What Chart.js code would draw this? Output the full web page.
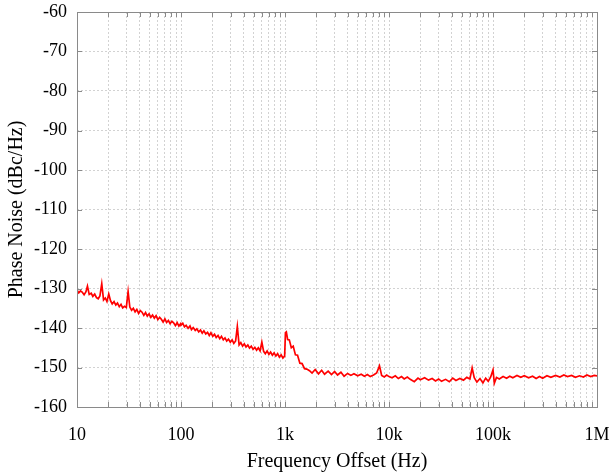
<!DOCTYPE html>
<html>
<head>
<meta charset="utf-8">
<script src="https://cdn.jsdelivr.net/npm/chart.js@4.4.1/dist/chart.umd.min.js"></script>
<style>
  html, body { margin: 0; padding: 0; background: #fff; overflow: hidden; }
  #wrap { width: 614px; height: 474px; }
</style>
</head>
<body>
<div id="wrap"><canvas id="chart"></canvas></div>
<script>
const freqHz = [
  10, 10.4, 10.8, 11.2, 11.7, 12.2, 12.6, 13.1, 13.7, 14.2, 14.8, 15.4, 16, 16.6, 17.3, 18, 18.7, 19.4, 20.2, 21,
  21.8, 22.7, 23.6, 24.5, 25.5, 26.5, 27.5, 28.6, 29.8, 31, 32.2, 33.5, 34.8, 36.2, 37.6, 39.1, 40.6, 42.2, 43.9, 45.6,
  47.4, 49.3, 51.3, 53.3, 55.4, 57.6, 59.9, 62.3, 64.7, 67.3, 70, 72.7, 75.6, 78.6, 81.7, 84.9, 88.3, 91.8, 95.4, 99.2,
  100, 104, 108, 112, 117, 122, 126, 131, 137, 142, 148, 154, 160, 166, 173, 180, 187, 194, 202, 210,
  218, 227, 236, 245, 255, 265, 275, 286, 298, 310, 322, 335, 348, 362, 376, 391, 406, 422, 439, 456,
  474, 493, 513, 533, 554, 576, 599, 623, 647, 673, 700, 727, 756, 786, 817, 849, 883, 918, 954, 992,
  1010, 1030, 1060, 1100, 1150, 1200, 1260, 1320, 1390, 1460, 1540, 1620, 1720, 1820, 1950, 2100, 2250, 2400, 2600, 2800,
  3000, 3200, 3450, 3700, 4000, 4300, 4600, 5000, 5400, 5800, 6200, 6600, 7100, 7600, 8100, 8500, 9000, 9500, 10000, 10700,
  11500, 12300, 13200, 14000, 15000, 16000, 17500, 19000, 20000, 22000, 24000, 26000, 28000, 30000, 32000, 35000, 38000, 41000, 44000, 48000,
  52000, 56000, 60000, 63000, 66000, 70000, 75000, 80000, 85000, 90000, 95000, 100000, 103000, 108000, 115000, 125000, 135000, 145000, 155000, 170000,
  185000, 200000, 220000, 240000, 260000, 280000, 300000, 330000, 360000, 400000, 440000, 480000, 520000, 570000, 620000, 680000, 740000, 800000, 870000, 940000,
  1000000
];
const phaseNoise = [
  -130.4, -131.1, -130.6, -130.9, -131.6, -130.8, -129.4, -131.5, -131.2, -132.0, -131.4, -132.3, -132.6, -131.9, -128.8, -132.9, -132.4, -133.3, -131.4, -133.1,
  -133.9, -133.3, -134.2, -133.7, -134.6, -134.0, -134.9, -134.5, -134.8, -130.8, -134.7, -135.5, -135.0, -135.9, -135.3, -136.3, -135.6, -136.0, -136.8, -136.1,
  -137.0, -136.4, -137.3, -136.7, -137.5, -136.9, -137.9, -137.3, -137.8, -138.5, -137.7, -138.6, -138.1, -138.9, -138.3, -138.7, -139.4, -138.6, -139.5, -138.9,
  -139.3, -138.8, -139.7, -139.3, -140.1, -139.5, -140.4, -139.9, -140.6, -140.2, -141.0, -140.5, -141.3, -140.7, -141.5, -141.1, -141.9, -141.2, -142.1, -141.6,
  -142.4, -141.9, -142.7, -142.1, -143.0, -142.5, -143.3, -142.8, -143.6, -143.0, -143.9, -143.3, -139.6, -144.3, -143.7, -144.6, -144.0, -144.8, -144.3, -145.1,
  -144.6, -145.4, -144.9, -145.6, -145.0, -145.8, -143.6, -145.9, -146.5, -145.8, -146.7, -146.1, -146.9, -146.3, -147.1, -146.5, -147.4, -146.8, -147.6, -147.1,
  -141.2, -141.0, -142.9, -143.0, -145.0, -144.6, -146.8, -146.9, -148.9, -149.0, -150.3, -150.4, -150.8, -151.4, -150.5, -151.6, -150.7, -151.7, -150.9, -151.8,
  -151.0, -151.9, -151.2, -152.2, -151.5, -152.0, -151.6, -152.1, -151.7, -152.2, -151.8, -152.3, -151.9, -151.4, -149.6, -152.0, -152.4, -151.9, -152.3, -152.6,
  -152.1, -152.8, -152.3, -152.9, -152.4, -153.0, -153.6, -152.7, -153.1, -152.6, -153.2, -152.8, -153.4, -152.9, -153.5, -153.0, -153.6, -152.7, -153.3, -152.8,
  -153.2, -152.5, -152.9, -150.1, -152.6, -153.7, -152.8, -153.9, -152.7, -153.5, -152.4, -150.6, -154.0, -152.5, -152.9, -152.3, -152.7, -152.2, -152.6, -152.0,
  -152.5, -152.1, -152.6, -152.2, -152.8, -152.3, -152.7, -152.1, -152.5, -152.0, -152.4, -151.9, -152.3, -152.0, -152.5, -152.1, -152.4, -151.9, -152.3, -152.0,
  -152.1
];

// Decade ticks carry labels, the 2..9 multiples only get grid lines
const xMajor = [10, 100, 1000, 10000, 100000, 1000000];
const xTickLabels = ['10', '100', '1k', '10k', '100k', '1M'];

const serif = "'Liberation Serif', 'Times New Roman', serif";

// Gray frame round the plot with short inward tick marks on all four sides
const frameTicks = {
  id: 'frameTicks',
  afterDatasetsDraw(chart) {
    const { ctx, chartArea: a, scales: { x, y } } = chart;
    ctx.save();
    ctx.strokeStyle = '#8a8a8a';
    ctx.lineWidth = 1;
    ctx.beginPath();
    x.ticks.forEach(t => {
      const px = Math.round(x.getPixelForValue(t.value)) + 0.5;
      ctx.moveTo(px, a.bottom); ctx.lineTo(px, a.bottom - 5);
      ctx.moveTo(px, a.top); ctx.lineTo(px, a.top + 5);
    });
    y.ticks.forEach(t => {
      const py = Math.round(y.getPixelForValue(t.value)) + 0.5;
      ctx.moveTo(a.left, py); ctx.lineTo(a.left + 5, py);
      ctx.moveTo(a.right, py); ctx.lineTo(a.right - 5, py);
    });
    ctx.stroke();
    ctx.strokeRect(Math.round(a.left) + 0.5, Math.round(a.top) + 0.5,
      Math.round(a.right - a.left), Math.round(a.bottom - a.top));
    ctx.restore();
  }
};

new Chart(document.getElementById('chart'), {
  type: 'line',
  data: {
    datasets: [{
      data: freqHz.map((f, i) => ({ x: f, y: phaseNoise[i] })),
      borderColor: '#ff0000',
      borderWidth: 1.7,
      pointRadius: 0,
      tension: 0,
      fill: false
    }]
  },
  options: {
    responsive: true,
    maintainAspectRatio: false,
    animation: false,
    devicePixelRatio: 1,
    layout: { padding: 0 },
    plugins: { legend: { display: false }, tooltip: { enabled: false } },
    scales: {
      x: {
        type: 'logarithmic',
        min: 10,
        max: 1000000,
        afterBuildTicks(scale) {
          const ticks = [];
          xMajor.forEach((v, i) => {
            ticks.push({ value: v, major: true });
            if (i < xMajor.length - 1) {
              for (let m = 2; m < 10; m++) ticks.push({ value: v * m });
            }
          });
          scale.ticks = ticks;
        },
        afterFit(scale) {
          scale.height = 67;
          scale.paddingLeft = 0;
          scale.paddingRight = 17;
        },
        grid: { color: '#d2d2d2', drawTicks: false },
        border: { display: false, dash: [2, 2] },
        ticks: {
          autoSkip: false,
          maxRotation: 0,
          padding: 17,
          color: '#000',
          font: { family: serif, size: 18 },
          callback(value) {
            const i = xMajor.indexOf(value);
            return i >= 0 ? xTickLabels[i] : '';
          }
        },
        title: {
          display: true,
          text: 'Frequency Offset (Hz)',
          color: '#000',
          font: { family: serif, size: 20 },
          padding: { top: 0, bottom: 0 }
        }
      },
      y: {
        min: -160,
        max: -60,
        afterFit(scale) {
          scale.width = 77;
          scale.paddingTop = 12;
          scale.paddingBottom = 0;
        },
        grid: { color: '#d2d2d2', drawTicks: false },
        border: { display: false, dash: [2, 2] },
        ticks: {
          stepSize: 10,
          padding: 10,
          color: '#000',
          font: { family: serif, size: 18 }
        },
        title: {
          display: true,
          text: 'Phase Noise (dBc/Hz)',
          color: '#000',
          font: { family: serif, size: 20 },
          padding: { top: 5, bottom: 0 }
        }
      }
    }
  },
  plugins: [frameTicks]
});
</script>
</body>
</html>
